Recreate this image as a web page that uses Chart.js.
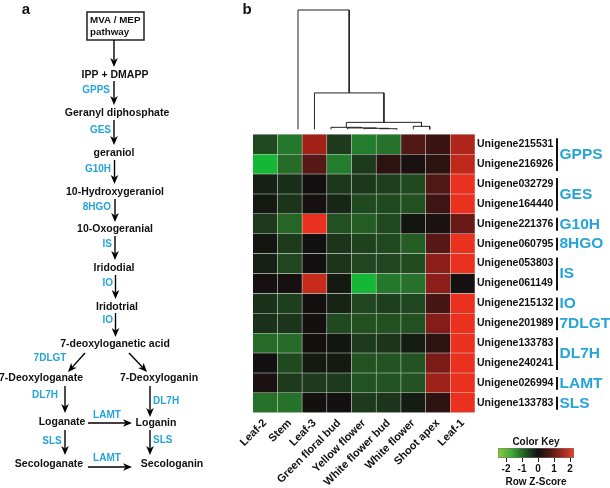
<!DOCTYPE html>
<html>
<head>
<meta charset="utf-8">
<script src="https://cdn.jsdelivr.net/npm/chart.js@4.4.1/dist/chart.umd.min.js"></script>
<style>
  html, body { margin: 0; padding: 0; background: #fff; }
  #wrap { position: relative; width: 610px; height: 488px; overflow: hidden; }
  #wrap canvas { position: absolute; left: 0; top: 0; }
</style>
</head>
<body>
<div id="wrap">
  <canvas id="pathway" width="610" height="488"></canvas>
  <canvas id="heatmap" width="610" height="488"></canvas>
  <canvas id="colorKey" width="610" height="488"></canvas>
</div>
<script>
// ---- data ----
const tissues = ['Leaf-2', 'Stem', 'Leaf-3', 'Green floral bud', 'Yellow flower',
  'White flower bud', 'White flower', 'Shoot apex', 'Leaf-1'];

const unigenes = ['Unigene215531', 'Unigene216926', 'Unigene032729', 'Unigene164440',
  'Unigene221376', 'Unigene060795', 'Unigene053803', 'Unigene061149', 'Unigene215132',
  'Unigene201989', 'Unigene133783', 'Unigene240241', 'Unigene026994', 'Unigene133783'];

const geneGroups = ['GPPS', 'GPPS', 'GES', 'GES', 'G10H', '8HGO', 'IS', 'IS', 'IO',
  '7DLGT', 'DL7H', 'DL7H', 'LAMT', 'SLS'];

// row z-scores, one row per unigene, columns in tissue order
const zScores = [
  [-0.8, -1.5, 1.65, -0.6, -1.6, -1.4, 0.7, 0.45, 1.8],
  [-2.5, -1.3, 0.8, -1.6, -0.6, 0.3, 0.1, 0.3, 2.0],
  [-0.2, -0.4, 0.0, -0.55, -0.55, -0.65, -0.8, 0.7, 2.5],
  [-0.1, -0.5, 0.05, -0.3, -0.8, -0.8, -0.9, 0.5, 2.5],
  [-0.6, -1.2, 2.5, -0.9, -1.1, -0.8, -0.05, 0.1, 1.0],
  [-0.05, -0.6, 0.0, -0.5, -0.7, -0.8, -1.1, 0.8, 2.5],
  [-0.2, -0.75, 0.0, -0.5, -0.75, -0.75, -0.85, 1.4, 2.5],
  [0.05, 0.05, 2.1, -0.1, -2.5, -1.5, -1.4, 1.4, 0.05],
  [-0.45, -0.65, 0.02, -0.25, -0.75, -0.65, -0.75, 0.6, 2.5],
  [-0.45, -0.5, 0.02, -0.8, -0.9, -0.9, -0.9, 1.3, 2.5],
  [-1.3, -1.3, 0.02, -0.05, -0.6, -0.5, -0.15, 0.3, 2.5],
  [0.0, -0.8, -0.1, -0.1, -0.95, -0.95, -0.95, 1.2, 2.5],
  [0.1, -0.6, -0.6, -0.6, -0.95, -0.95, -0.95, 1.6, 2.5],
  [-1.4, -1.4, 0.02, 0.0, -0.6, -0.5, -0.15, 0.3, 2.5]
];

// column dendrogram: leaf index >= 0, earlier merge = -(k+1)
const dendroMerges = [[5, 6], [4, -1], [3, -2], [2, -3], [7, 8], [-4, -5], [1, -6], [0, -7]];
const dendroHeights = [0.03, 0.05, 0.07, 0.10, 0.15, 0.35, 1.83, 6.0];

const keyTicks = [-2, -1, 0, 1, 2];

// pathway (panel a)
const compounds = ['MVA / MEP pathway', 'IPP + DMAPP', 'Geranyl diphosphate', 'geraniol',
  '10-Hydroxygeraniol', '10-Oxogeranial', 'Iridodial', 'Iridotrial', '7-deoxyloganetic acid',
  '7-Deoxyloganate', '7-Deoxyloganin', 'Loganate', 'Loganin', 'Secologanate', 'Secologanin'];
const pathwaySteps = [[0, 1, ''], [1, 2, 'GPPS'], [2, 3, 'GES'], [3, 4, 'G10H'], [4, 5, '8HGO'],
  [5, 6, 'IS'], [6, 7, 'IO'], [7, 8, 'IO'], [8, 9, '7DLGT'], [8, 10, ''], [9, 11, 'DL7H'],
  [10, 12, 'DL7H'], [11, 12, 'LAMT'], [11, 13, 'SLS'], [12, 14, 'SLS'], [13, 14, 'LAMT']];

// ---- diagram layout (panel a, in px-like data units) ----
const nodeXY = [[116, 26], [115, 75], [117, 113], [114, 153], [115, 192], [115, 229],
  [114, 268], [117, 307], [115, 344], [41, 378], [159, 378], [62, 422], [156, 423],
  [49, 464], [172, 464]];
const arrowXY = [[114, 40, 114, 67], [114, 81, 114, 105], [114, 120, 114, 145], [114.5, 160, 114.5, 184],
  [115, 199, 115, 222], [115, 236, 115, 260], [115.5, 275, 115.5, 299], [115.5, 313, 115.5, 337],
  [85, 353, 68, 372], [129, 353, 147, 372], [65, 386, 65, 413], [150, 386, 150, 417],
  [88, 423, 132, 423], [65, 430, 65, 455], [150, 430, 150, 455], [88, 467, 132, 467]];
const enzymeXY = [null, [110, 90, 'right'], [111, 130, 'right'], [111, 169, 'right'], [111, 207, 'right'],
  [112, 244, 'right'], [113, 283, 'right'], [113, 320, 'right'], [50, 358, 'center'], null,
  [45, 395, 'center'], [153, 401, 'left'], [107, 415, 'center'], [52, 441, 'center'],
  [153, 440, 'left'], [107, 458, 'center']];

const FONT = '"Liberation Sans", Arial, sans-serif';
const BLUE = '#26a4d8';

function zColor(z) {
  const t = Math.min(Math.abs(z) / 2.5, 1);
  const stops = z < 0 ? [[18, 18, 16], [40, 104, 40], [20, 184, 54]]
                      : [[18, 16, 16], [128, 28, 24], [234, 48, 30]];
  const [a, b, u] = t < 0.5 ? [stops[0], stops[1], t * 2] : [stops[1], stops[2], (t - 0.5) * 2];
  return 'rgb(' + a.map((v, i) => Math.round(v + (b[i] - v) * u)).join(',') + ')';
}

function drawArrow(ctx, x1, y1, x2, y2) {
  const ang = Math.atan2(y2 - y1, x2 - x1);
  const len = 9, half = 3.8, notch = 2.5;
  ctx.beginPath();
  ctx.moveTo(x1, y1);
  ctx.lineTo(x2 - Math.cos(ang) * (len - notch), y2 - Math.sin(ang) * (len - notch));
  ctx.stroke();
  ctx.save();
  ctx.translate(x2, y2);
  ctx.rotate(ang);
  ctx.beginPath();
  ctx.moveTo(0, 0);
  ctx.lineTo(-len, -half);
  ctx.lineTo(-len + notch, 0);
  ctx.lineTo(-len, half);
  ctx.closePath();
  ctx.fill();
  ctx.restore();
}

// ---- panel a: pathway ----
const pathwayPlugin = {
  id: 'pathway',
  afterDraw(chart) {
    const { ctx } = chart;
    const xs = chart.scales.x, ys = chart.scales.y;
    const px = v => xs.getPixelForValue(v), py = v => ys.getPixelForValue(v);
    ctx.save();
    ctx.fillStyle = '#111';
    ctx.font = 'bold 15px ' + FONT;
    ctx.textAlign = 'center';
    ctx.textBaseline = 'middle';
    ctx.fillText('a', px(26), py(10));

    // start box
    ctx.strokeStyle = '#222';
    ctx.lineWidth = 1.5;
    ctx.strokeRect(px(87), py(12), px(144) - px(87), py(40) - py(12));
    ctx.font = 'bold 9.8px ' + FONT;
    ctx.textAlign = 'left';
    const boxLines = compounds[0].replace(' pathway', '\npathway').split('\n');
    ctx.fillText(boxLines[0], px(90), py(20));
    ctx.fillText(boxLines[1], px(90), py(32.5));

    ctx.font = 'bold 10.5px ' + FONT;
    ctx.textAlign = 'center';
    compounds.forEach((name, i) => {
      if (i === 0) return;
      ctx.fillText(name, px(nodeXY[i][0]), py(nodeXY[i][1]));
    });

    ctx.strokeStyle = '#000';
    ctx.fillStyle = '#000';
    ctx.lineWidth = 1.4;
    pathwaySteps.forEach((s, k) => {
      const a = arrowXY[k];
      drawArrow(ctx, px(a[0]), py(a[1]), px(a[2]), py(a[3]));
    });

    ctx.fillStyle = BLUE;
    ctx.font = 'bold 10px ' + FONT;
    pathwaySteps.forEach((s, k) => {
      const e = enzymeXY[k];
      if (!s[2] || !e) return;
      ctx.textAlign = e[2];
      ctx.fillText(s[2], px(e[0]), py(e[1]));
    });
    ctx.restore();
  }
};

new Chart(document.getElementById('pathway'), {
  type: 'scatter',
  data: { datasets: [{ data: nodeXY.map(([x, y]) => ({ x, y })), pointRadius: 0 }] },
  options: {
    responsive: false, animation: false, events: [],
    layout: { padding: 0 },
    plugins: { legend: { display: false }, tooltip: { enabled: false } },
    scales: {
      x: { type: 'linear', min: 0, max: 610, display: false },
      y: { type: 'linear', min: 0, max: 488, reverse: true, display: false }
    }
  },
  plugins: [pathwayPlugin]
});

// ---- panel b: heatmap + dendrogram ----
const nRows = unigenes.length;
const cellSets = unigenes.map((g, r) => ({
  type: 'bar',
  label: g,
  data: tissues.map(() => [nRows - 1 - r, nRows - r]),
  backgroundColor: zScores[r].map(zColor),
  borderColor: 'rgba(110,130,110,0.25)',
  borderWidth: 0.6,
  borderSkipped: false,
  grouped: false,
  barPercentage: 1,
  categoryPercentage: 1,
  xAxisID: 'x',
  yAxisID: 'y'
}));

const dendroBase = 14.25;
const mergeX = [];
function dendroPos(ref) {
  return ref >= 0 ? [ref, 0] : [mergeX[-ref - 1], dendroHeights[-ref - 1]];
}
const dendroSets = dendroMerges.map(([a, b], k) => {
  const [xa, ha] = dendroPos(a), [xb, hb] = dendroPos(b);
  const h = dendroHeights[k];
  mergeX[k] = (xa + xb) / 2;
  return {
    type: 'line',
    data: [{ x: xa, y: dendroBase + ha }, { x: xa, y: dendroBase + h },
           { x: xb, y: dendroBase + h }, { x: xb, y: dendroBase + hb }],
    borderColor: '#222',
    borderWidth: 1,
    pointRadius: 0,
    fill: false,
    tension: 0,
    xAxisID: 'xd',
    yAxisID: 'y'
  };
});

const groupPlugin = {
  id: 'geneGroups',
  afterDraw(chart) {
    const { ctx, chartArea } = chart;
    const ys = chart.scales.y;
    ctx.save();
    ctx.fillStyle = '#111';
    ctx.font = 'bold 15px ' + FONT;
    ctx.textAlign = 'center';
    ctx.textBaseline = 'middle';
    ctx.fillText('b', 247, 10);

    let start = 0;
    for (let i = 1; i <= geneGroups.length; i++) {
      if (i < geneGroups.length && geneGroups[i] === geneGroups[start]) continue;
      const top = ys.getPixelForValue(nRows - start);
      const bottom = ys.getPixelForValue(nRows - i);
      const bx = chartArea.right + 82;
      ctx.strokeStyle = '#111';
      ctx.lineWidth = 2;
      ctx.beginPath();
      ctx.moveTo(bx, top + 4);
      ctx.lineTo(bx, bottom - 3);
      ctx.stroke();
      ctx.fillStyle = BLUE;
      ctx.font = 'bold 15.5px ' + FONT;
      ctx.textAlign = 'left';
      ctx.fillText(geneGroups[start], bx + 2.5, (top + bottom) / 2 + 0.5);
      start = i;
    }
    ctx.restore();
  }
};

new Chart(document.getElementById('heatmap'), {
  type: 'bar',
  data: { labels: tissues, datasets: [...cellSets, ...dendroSets] },
  options: {
    responsive: false, animation: false, events: [],
    layout: { padding: { left: 252.7, top: 9, right: 0, bottom: 0 } },
    plugins: { legend: { display: false }, tooltip: { enabled: false } },
    scales: {
      x: {
        type: 'category',
        grid: { display: false, drawTicks: false },
        border: { display: false },
        ticks: {
          color: '#111', font: { family: FONT, size: 11, weight: 'bold' },
          minRotation: 45, maxRotation: 45, autoSkip: false, padding: 4
        },
        afterFit: s => { s.height = 75.3; }
      },
      xd: { type: 'linear', min: -0.5, max: 8.5, display: false },
      y: {
        type: 'linear', position: 'right', min: 0, max: 20.3,
        grid: { display: false, drawTicks: false },
        border: { display: false },
        afterBuildTicks: s => { s.ticks = unigenes.map((g, i) => ({ value: nRows - 0.5 - i })); },
        ticks: {
          color: '#111', font: { family: FONT, size: 10.5, weight: 'bold' },
          padding: 2, autoSkip: false,
          callback: (v, i) => unigenes[i]
        },
        afterFit: s => { s.width = 135; }
      }
    }
  },
  plugins: [groupPlugin]
});

// ---- color key ----
const keyStops = [[-2.5, '#8ccb3c'], [-1.6, '#3ea534'], [-0.8, '#1d5a22'], [0, '#121212'],
  [0.8, '#551a14'], [1.6, '#a82a20'], [2.25, '#e4442c']];

new Chart(document.getElementById('colorKey'), {
  type: 'bar',
  data: {
    labels: ['key'],
    datasets: [{
      data: [[-2.5, 2.25]],
      backgroundColor: (c) => {
        const ch = c.chart;
        if (!ch.chartArea) return '#000';
        const xs = ch.scales.x;
        const x0 = xs.getPixelForValue(-2.5), x1 = xs.getPixelForValue(2.25);
        const g = ch.ctx.createLinearGradient(x0, 0, x1, 0);
        keyStops.forEach(([v, col]) => g.addColorStop((v + 2.5) / 4.75, col));
        return g;
      },
      borderColor: '#777',
      borderWidth: 0.8,
      borderSkipped: false,
      barPercentage: 1,
      categoryPercentage: 1
    }]
  },
  options: {
    indexAxis: 'y',
    responsive: false, animation: false, events: [],
    layout: { padding: { left: 498, right: 36, top: 436, bottom: 0 } },
    plugins: {
      legend: { display: false }, tooltip: { enabled: false },
      title: {
        display: true, text: 'Color Key', color: '#111',
        font: { family: FONT, size: 10, weight: 'bold' }, padding: { top: 0, bottom: 0 }
      }
    },
    scales: {
      x: {
        type: 'linear', min: -2.5, max: 2.25,
        afterBuildTicks: s => { s.ticks = keyTicks.map(v => ({ value: v })); },
        grid: { drawOnChartArea: false, drawTicks: true, tickLength: 4, color: '#222' },
        border: { display: false },
        ticks: { color: '#111', font: { family: FONT, size: 10, weight: 'bold' }, padding: 1 },
        title: {
          display: true, text: 'Row Z-Score', color: '#111',
          font: { family: FONT, size: 10, weight: 'bold' }, padding: { top: -2, bottom: 0 }
        },
        afterFit: s => { s.height = 30; }
      },
      y: { type: 'category', display: false }
    }
  }
});
</script>
</body>
</html>
